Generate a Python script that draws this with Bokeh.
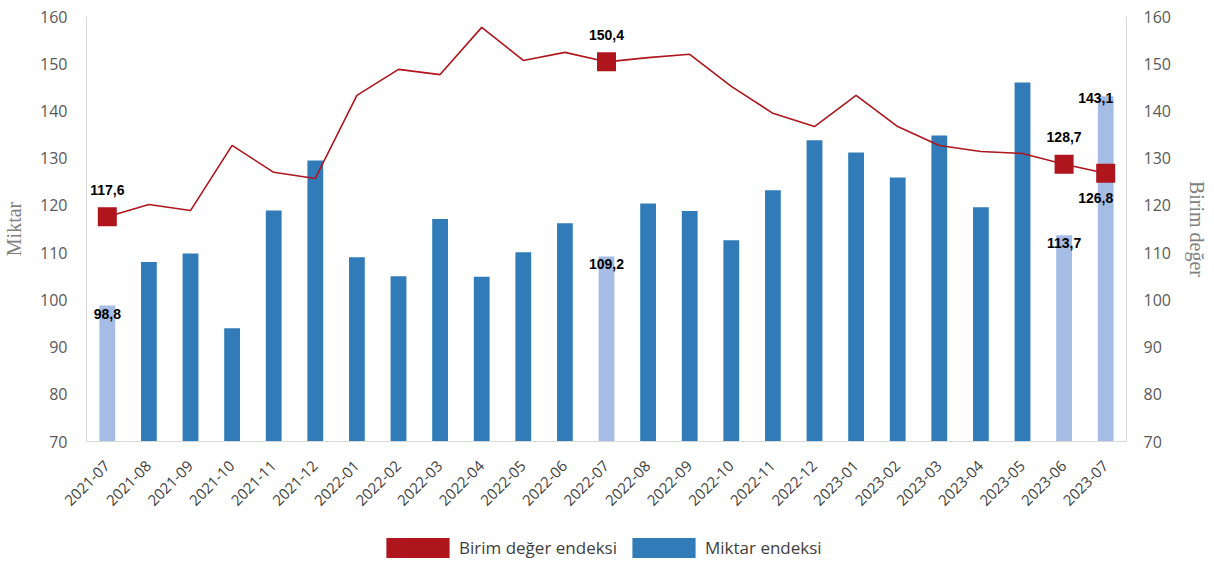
import math
from bokeh.plotting import figure
from bokeh.layouts import column
from bokeh.models import (ColumnDataSource, Range1d, LinearAxis, SingleIntervalTicker,
                          Legend, LegendItem, FactorRange)
from bokeh.core.properties import value
from bokeh.embed import file_html
from bokeh.resources import INLINE

months = ["2021-07", "2021-08", "2021-09", "2021-10", "2021-11", "2021-12",
          "2022-01", "2022-02", "2022-03", "2022-04", "2022-05", "2022-06",
          "2022-07", "2022-08", "2022-09", "2022-10", "2022-11", "2022-12",
          "2023-01", "2023-02", "2023-03", "2023-04", "2023-05", "2023-06", "2023-07"]
miktar = [98.8, 108.0, 109.8, 94.0, 118.9, 129.5, 109.0, 105.0, 117.1, 104.9, 110.1, 116.2,
          109.2, 120.4, 118.8, 112.6, 123.2, 133.8, 131.2, 125.9, 134.8, 119.6, 146.0, 113.7, 143.1]
birim = [117.6, 120.2, 118.9, 132.7, 127.0, 125.7, 143.3, 148.8, 147.7, 157.7, 150.7, 152.4,
         150.4, 151.3, 152.0, 145.2, 139.5, 136.7, 143.3, 136.7, 132.7, 131.4, 131.0, 128.7, 126.8]
highlight = ["2021-07", "2022-07", "2023-06", "2023-07"]
birim_label_below = ["2023-07"]

DARK = "#317CB8"
LIGHT = "#A5BDE4"
RED = "#AE151C"
TICK = "#595959"


def fmt(v):
    return f"{v:.1f}".replace(".", ",")


def src(pairs):
    return ColumnDataSource(dict(m=[m for m, v in pairs], v=[v for m, v in pairs],
                                 t=[fmt(v) for m, v in pairs]))


last = months[-1]
dark_pairs = [(m, v) for m, v in zip(months, miktar) if m not in highlight]
light_pairs = [(m, v) for m, v in zip(months, miktar) if m in highlight]
hi_b = [(m, v) for m, v in zip(months, birim) if m in highlight]
above_pairs = [(m, v) for m, v in hi_b if m not in birim_label_below]
below_pairs = [(m, v) for m, v in hi_b if m in birim_label_below]

p = figure(x_range=FactorRange(*months), y_range=Range1d(70, 160),
           width=1214, height=530, output_backend="svg", toolbar_location=None,
           min_border_left=86, min_border_right=88, min_border_top=16, min_border_bottom=89)
p.extra_y_ranges = {"r": Range1d(70, 160)}

p.outline_line_color = None
p.xgrid.grid_line_color = None
p.ygrid.grid_line_color = None

p.vbar(x="m", top="v", bottom=70, width=0.38, source=src(dark_pairs),
       fill_color=DARK, line_color=None)
p.vbar(x="m", top="v", bottom=70, width=0.38, source=src(light_pairs),
       fill_color=LIGHT, line_color=None)

p.line(months, birim, y_range_name="r", line_color=RED, line_width=1.6)
p.scatter(x="m", y="v", source=src(hi_b), y_range_name="r", marker="square", size=19,
          fill_color=RED, line_color=None)

lab_kw = dict(text="t", text_font=value("Liberation Sans"), text_font_style="bold",
              text_font_size="14px", text_color="#000000", text_align="center",
              text_baseline="middle")


def labels(pairs, y_offset, edge_y_offset, y_range_name="default"):
    inner = [(m, v) for m, v in pairs if m != last]
    edge = [(m, v) for m, v in pairs if m == last]
    if inner:
        p.text(x="m", y="v", source=src(inner), y_offset=y_offset, y_range_name=y_range_name, **lab_kw)
    if edge:
        p.text(x="m", y="v", source=src(edge), y_offset=edge_y_offset, x_offset=-10,
               y_range_name=y_range_name, **lab_kw)


labels(light_pairs, 8, 2)
labels(above_pairs, -27, -27, "r")
labels(below_pairs, 25, 25, "r")

p.yaxis.ticker = SingleIntervalTicker(interval=10)
right = LinearAxis(y_range_name="r", ticker=SingleIntervalTicker(interval=10), axis_label="Birim değer")
p.add_layout(right, "right")
p.yaxis[0].axis_label = "Miktar"

for ax, so, lso in [(p.yaxis[0], 19, 12), (right, 17, 12)]:
    ax.axis_line_color = "#d9d9d9"
    ax.major_tick_line_color = None
    ax.minor_tick_line_color = None
    ax.major_tick_out = 0
    ax.major_tick_in = 0
    ax.minor_tick_out = 0
    ax.major_label_text_font = "Open Sans"
    ax.major_label_text_font_size = "16px"
    ax.major_label_text_color = TICK
    ax.major_label_standoff = so
    ax.axis_label_text_font = "Liberation Serif"
    ax.axis_label_text_font_style = "normal"
    ax.axis_label_text_font_size = "20px"
    ax.axis_label_text_color = "#7f7f7f"
    ax.axis_label_standoff = lso

xa = p.xaxis[0]
xa.axis_line_color = "#d9d9d9"
xa.major_tick_line_color = None
xa.minor_tick_line_color = None
xa.major_tick_out = 0
xa.major_tick_in = 0
xa.major_label_orientation = math.pi / 4
xa.major_label_text_font = "Open Sans"
xa.major_label_text_font_size = "15px"
xa.major_label_text_color = "#404040"
xa.major_label_standoff = 22

# legend strip below the chart (its frame is aligned with the chart's frame)
lf = figure(width=1214, height=36, x_range=Range1d(0, 1), y_range=Range1d(0, 1),
            output_backend="svg", toolbar_location=None, min_border=0)
lf.axis.visible = False
lf.grid.grid_line_color = None
lf.outline_line_color = None
red_sw = lf.vbar(x=[0.5], top=[0], bottom=0, width=0.01, fill_color=RED, line_color=None)
blue_sw = lf.vbar(x=[0.5], top=[0], bottom=0, width=0.01, fill_color=DARK, line_color=None)
legend = Legend(items=[LegendItem(label="Birim değer endeksi", renderers=[red_sw]),
                       LegendItem(label="Miktar endeksi", renderers=[blue_sw])],
                orientation="horizontal", location=(292, 6),
                glyph_width=79, glyph_height=25, label_standoff=2, spacing=7,
                label_text_font="Open Sans", label_text_font_size="17px",
                label_text_color="#404040", border_line_color=None,
                background_fill_alpha=0, padding=0, margin=0)
lf.add_layout(legend)

open("out.html", "w").write(file_html(column(p, lf, spacing=0), INLINE))
